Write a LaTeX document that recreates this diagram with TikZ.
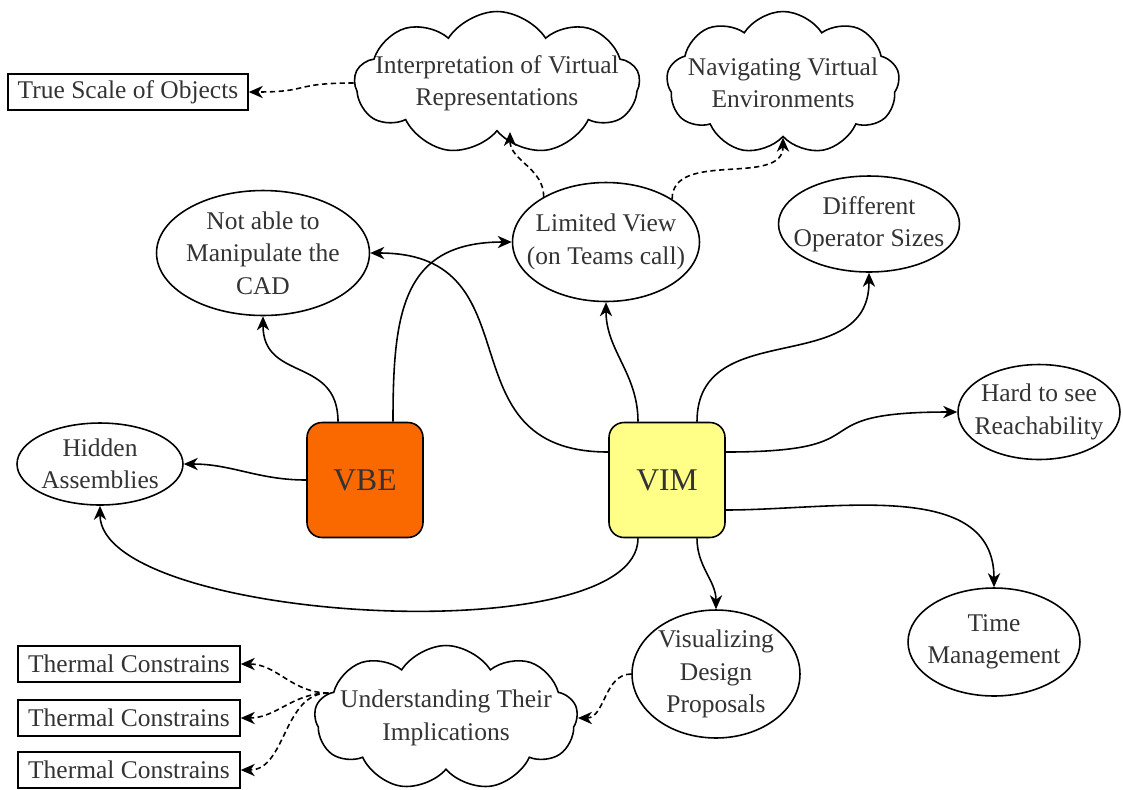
\documentclass[tikz,border=0pt]{standalone}
\usepackage{fontspec}
\setmainfont{Liberation Serif}
\usetikzlibrary{shapes.geometric,shapes.symbols,arrows.meta}
\definecolor{vbeorange}{HTML}{FA6800}
\definecolor{vimyellow}{HTML}{FFFF88}
\definecolor{txtgray}{HTML}{333333}

\begin{document}
\begin{tikzpicture}[x=0.02cm,y=-0.02cm,line width=0.9pt,
  font=\fontsize{14.5}{18.4}\selectfont,
  oval/.style={draw,ellipse,inner sep=0pt},
  puff/.style={draw,cloud,cloud puffs=9,cloud puff arc=115,cloud ignores aspect,inner sep=0pt},
  box/.style={draw,rectangle,inner sep=0pt,minimum height=0.72cm,text=txtgray},
  hub/.style={draw,rounded corners=0.3cm,minimum width=2.32cm,minimum height=2.3cm,text=txtgray,font=\fontsize{18}{22}\selectfont},
  lbl/.style={align=center,inner sep=0pt,text=txtgray},
  link/.style={-{Stealth[length=8pt,width=7pt,inset=2.5pt]}},
  hint/.style={link,dash pattern=on 3pt off 2pt}]
  \useasboundingbox (0,0) rectangle (1123,789);

  \node[hub,fill=vbeorange] (vbe) at (365,480) {VBE};
  \node[hub,fill=vimyellow] (vim) at (667,480) {VIM};

  \node[oval,minimum width=4.26cm,minimum height=2.5cm] (manip) at (263,253) {};
  \node[lbl] (manipT) at (manip) {Not able to\\Manipulate the\\CAD};
  \node[oval,minimum width=3.74cm,minimum height=2.38cm] (limited) at (606,242) {};
  \node[lbl] (limitedT) at (limited) {Limited View\\(on Teams call)};
  \node[oval,minimum width=3.62cm,minimum height=1.92cm] (ops) at (869,224) {};
  \node[lbl] (opsT) at (ops) {Different\\Operator Sizes};
  \node[oval,minimum width=3.24cm,minimum height=1.9cm] (reach) at (1039,412) {};
  \node[lbl] (reachT) at (reach) {Hard to see\\Reachability};
  \node[oval,minimum width=3.32cm,minimum height=1.64cm] (hidden) at (100,464) {};
  \node[lbl] (hiddenT) at (hidden) {Hidden\\Assemblies};
  \node[oval,minimum width=3.44cm,minimum height=2.16cm] (time) at (994,642) {};
  \node[lbl] (timeT) at (time) {Time\\Management};
  \node[oval,minimum width=3.36cm,minimum height=2.56cm] (visual) at (716,674) {};
  \node[lbl] (visualT) at (visual) {Visualizing\\Design\\Proposals};

  \node[puff,minimum width=5.7cm,minimum height=2.86cm] (interp) at (497,83) {};
  \node[lbl] (interpT) at (interp) {Interpretation of Virtual\\Representations};
  \node[puff,minimum width=4.66cm,minimum height=2.86cm] (navig) at (783,83) {};
  \node[lbl] (navigT) at (navig) {Navigating Virtual\\Environments};
  \node[puff,minimum width=5.26cm,minimum height=2.9cm] (und) at (446,718) {};
  \node[lbl] (undT) at (und) {Understanding Their\\Implications};

  \node[box,minimum width=4.8cm] (scale) at (128,92) {True Scale of Objects};
  \node[box,minimum width=4.44cm] (therm1) at (129,664) {Thermal Constrains};
  \node[box,minimum width=4.44cm] (therm2) at (129,718) {Thermal Constrains};
  \node[box,minimum width=4.44cm] (therm3) at (129,770) {Thermal Constrains};

  \draw[link] ([xshift=-0.54cm]vbe.north) to[out=90,in=-90,looseness=1.3] (manip.south);
  \draw[link] ([xshift=0.56cm]vbe.north) to[out=90,in=180,looseness=1.3] (limited.west);
  \draw[link] (vbe.west) to[out=180,in=0] (hidden.east);
  \draw[link] ([yshift=0.56cm]vim.west) to[out=180,in=0,looseness=1.4] (manip.east);
  \draw[link] ([xshift=-0.58cm]vim.south) to[out=-90,in=-90,looseness=0.55] (hidden.south);
  \draw[link] ([xshift=-0.58cm]vim.north) to[out=90,in=-90] (limited.south);
  \draw[link] ([xshift=0.6cm]vim.north) to[out=90,in=-90,looseness=1.2] (ops.south);
  \draw[link] ([yshift=0.56cm]vim.east) to[out=0,in=180,looseness=1.8] (reach.west);
  \draw[link] ([yshift=-0.6cm]vim.east) to[out=0,in=90] (time.north);
  \draw[link] ([xshift=0.6cm]vim.south) to[out=-90,in=90] (visual.north);

  \draw[hint] (limited.144) to[out=90,in=-90] ([xshift=0.26cm]interp.south);
  \draw[hint] (limited.33) to[out=90,in=-90] (navig.south);
  \draw[hint] (interp.west) to[out=180,in=0,looseness=1.5] (scale.east);
  \draw[hint] (visual.west) to[out=180,in=0] (und.east);
  \draw[hint] (und.168) to[out=180,in=0] (therm1.east);
  \draw[hint] (und.168) to[out=180,in=0] (therm2.east);
  \draw[hint] (und.168) to[out=180,in=0] (therm3.east);
\end{tikzpicture}
\end{document}
